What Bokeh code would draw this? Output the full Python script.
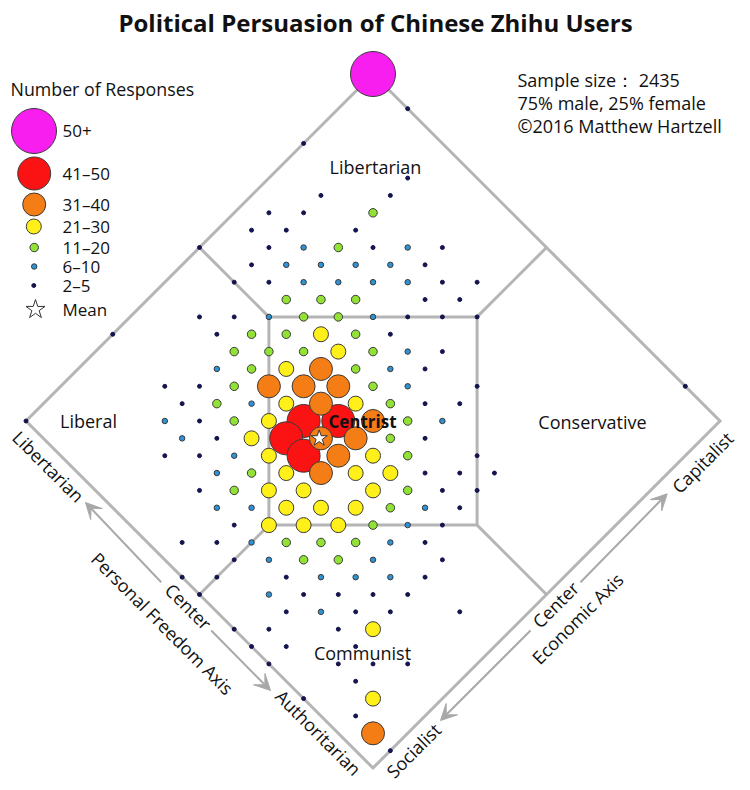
import math
from bokeh.plotting import figure
from bokeh.models import Range1d, Arrow, VeeHead
from bokeh.core.properties import value
from bokeh.embed import file_html
from bokeh.resources import INLINE

FONT = "Open Sans"

# ---------------- data: (economic score, personal-freedom score), 0..20 ----------------
resp_50_plus = [(20, 20)]
resp_41_50 = [(8, 12), (9, 11), (7, 12), (7, 11)]
resp_31_40 = [(10, 13), (8, 14), (9, 13), (10, 12), (9, 12), (10, 10), (8, 11),
              (9, 10), (8, 10), (7, 10), (1, 1)]
resp_21_30 = [(11, 14), (11, 13), (9, 14), (8, 13), (10, 11), (7, 13), (6, 13), (6, 12),
              (9, 9), (6, 11), (8, 9), (9, 8), (5, 11), (6, 10), (8, 8), (5, 10), (6, 9),
              (7, 8), (4, 10), (5, 9), (6, 8), (4, 4), (2, 2)]
resp_11_20 = [(16, 16), (14, 16), (11, 16), (12, 15), (13, 14), (11, 15), (12, 14), (9, 16),
              (10, 15), (12, 13), (8, 16), (9, 15), (10, 14), (12, 12), (8, 15), (11, 12),
              (7, 15), (11, 11), (6, 15), (11, 10), (6, 14), (11, 9), (10, 9), (10, 8),
              (5, 12), (4, 12), (9, 7), (8, 7), (7, 7), (4, 9), (5, 8), (6, 7), (4, 8), (5, 7)]
resp_6_10 = [(13, 17), (16, 14), (12, 17), (13, 16), (14, 15), (15, 14), (12, 16), (13, 15),
             (14, 14), (15, 13), (10, 16), (13, 13), (13, 11), (7, 16), (12, 11), (12, 10),
             (7, 14), (4, 16), (12, 8), (4, 15), (5, 13), (4, 13), (3, 12), (4, 11), (9, 6),
             (8, 6), (3, 10), (7, 6), (3, 9), (6, 6), (4, 7), (5, 6), (6, 5), (2, 8), (3, 6)]
resp_2_5 = [(20, 18), (16, 20), (18, 16), (15, 18), (17, 16), (13, 19), (14, 18), (12, 19),
            (13, 18), (15, 16), (10, 20), (12, 18), (15, 15), (17, 13), (11, 18), (16, 13),
            (10, 18), (11, 17), (16, 12), (17, 11), (15, 12), (16, 11), (8, 18), (9, 17),
            (14, 12), (15, 11), (16, 10), (5, 20), (8, 17), (13, 12), (14, 10), (13, 10),
            (5, 17), (6, 16), (14, 8), (5, 16), (12, 9), (13, 8), (0, 20), (5, 15), (5, 14),
            (11, 8), (3, 15), (4, 14), (12, 6), (10, 7), (11, 6), (12, 5), (3, 13), (10, 6),
            (11, 5), (10, 5), (3, 11), (9, 5), (1, 12), (2, 11), (8, 5), (2, 10), (8, 4),
            (0, 11), (1, 10), (3, 8), (7, 4), (0, 10), (3, 7), (4, 6), (5, 5), (6, 4), (2, 7),
            (4, 5), (5, 4), (7, 2), (0, 8), (1, 7), (3, 5), (0, 7), (1, 6), (3, 4), (0, 6),
            (2, 4), (3, 3), (4, 2), (2, 3), (0, 4), (1, 2), (1, 0), (20, 2)]
mean_econ, mean_freedom = 7.95, 11.05

legend_labels = ["50+", "41\u201350", "31\u201340", "21\u201330", "11\u201320", "6\u201310", "2\u20135"]

# region boundaries (economic, freedom)
outer_e, outer_f = [20, 20, 0, 0, 20], [20, 0, 0, 20, 20]
centrist_e, centrist_f = [10, 16, 10, 4, 10], [16, 10, 4, 10, 16]
spokes = [((10, 16), (10, 20)), ((16, 10), (20, 10)), ((10, 4), (10, 0)), ((4, 10), (0, 10))]

# ---------------- styling ----------------
fills = ["#f81ef0", "#fb1212", "#f57d15", "#fff01a", "#92e236", "#2e93d6", "#14144e"]
diam = [45, 33, 23, 15, 8.5, 5.5, 4]
groups = [resp_50_plus, resp_41_50, resp_31_40, resp_21_30, resp_11_20, resp_6_10, resp_2_5]

W, H = 748, 788
OFF = 0
CX, CY, A = 372.5, 420.5, 17.35  # pixel position of the centre, pixels per step


def X(e, f):
    return e - f


def Y(e, f):
    return e + f - 20


def sx(px):
    return (px - CX) / A


def sy(py):
    return (CY - py) / A


p = figure(width=W, height=H, output_backend="svg", toolbar_location=None,
           x_range=Range1d(sx(OFF), sx(OFF + W)), y_range=Range1d(sy(OFF + H), sy(OFF)),
           x_axis_location=None, y_axis_location=None, min_border=0)
p.grid.visible = False
p.outline_line_color = None
p.background_fill_color = "white"

GRAY = "#b5b5b5"
p.line([X(e, f) for e, f in zip(outer_e, outer_f)], [Y(e, f) for e, f in zip(outer_e, outer_f)],
       line_color=GRAY, line_width=3, line_join="miter")
p.line([X(e, f) for e, f in zip(centrist_e, centrist_f)],
       [Y(e, f) for e, f in zip(centrist_e, centrist_f)],
       line_color=GRAY, line_width=3, line_join="miter")
for (a, b) in spokes:
    p.line([X(*a), X(*b)], [Y(*a), Y(*b)], line_color=GRAY, line_width=3)

# points, small first
order = [6, 5, 4, 3, 1, 2, 0]
for k in order:
    pts = groups[k]
    xs = [X(e, f) for e, f in pts]
    ys = [Y(e, f) for e, f in pts]
    lc = "#14144e" if k == 6 else "#3a3a3a"
    p.scatter(xs, ys, size=diam[k], fill_color=fills[k], line_color=lc, line_width=1)

# mean star
p.scatter([X(mean_econ, mean_freedom)], [Y(mean_econ, mean_freedom)], marker="star",
          size=17, fill_color="white", line_color="#333333", line_width=1)


def txt(px, py, s, size="18px", angle=0, align="center", bold=False, color="#111111"):
    p.text([sx(px)], [sy(py)], text=[s], angle=angle, text_align=align, text_baseline="middle",
           text_font=value(FONT), text_font_size=size, text_color=color,
           text_font_style="bold" if bold else "normal")


# title and notes
txt(375, 22, "Political Persuasion of Chinese Zhihu Users", size="24px", bold=True)
txt(517, 79, "Sample size\uff1a 2435", align="left")
txt(517, 102, "75% male, 25% female", align="left")
txt(517, 125, "\u00a92016 Matthew Hartzell", align="left")

# region labels
txt(375, 166, "Libertarian")
txt(88, 420, "Liberal")
txt(592, 421, "Conservative")
txt(362, 652, "Communist")
txt(362, 421, "Centrist", bold=True, size="17px")

# legend
txt(10, 88, "Number of Responses", align="left", size="17.8px")
leg_y = [130.5, 173, 204, 226, 247, 266, 285]
leg_x = [33.5, 33.7, 33.7, 33.3, 33.7, 33.7, 33.3]
for k in range(7):
    p.scatter([sx(leg_x[k])], [sy(leg_y[k])], size=diam[k], fill_color=fills[k],
              line_color="#14144e" if k == 6 else "#3a3a3a", line_width=1)
    txt(62, leg_y[k], legend_labels[k], align="left", size="17px")
p.scatter([sx(35)], [sy(309)], marker="star", size=20, fill_color="white",
          line_color="#333333", line_width=1)
txt(62, 309, "Mean", align="left", size="17px")

# axes labels outside the diamond
DOWN = -math.pi / 4
UP = math.pi / 4
txt(48, 466, "Libertarian", angle=DOWN)
txt(188, 606, "Center", angle=DOWN)
txt(162, 623, "Personal Freedom Axis", angle=DOWN)
txt(318, 732, "Authoritarian", angle=DOWN)
txt(702, 462, "Capitalist", angle=UP)
txt(555, 604, "Center", angle=UP)
txt(577, 618, "Economic Axis", angle=UP)
txt(413, 750, "Socialist", angle=UP)

AG = "#a8a8a8"
for (x0, y0, x1, y1) in [(160.7, 581.7, 85, 502), (210.7, 630, 270, 690),
                         (580, 581.7, 666.7, 493.3), (530, 630, 440, 720)]:
    p.add_layout(Arrow(end=VeeHead(size=16, fill_color=AG, line_color=AG),
                       x_start=sx(x0), y_start=sy(y0), x_end=sx(x1), y_end=sy(y1),
                       line_color=AG, line_width=2))

open("out.html", "w").write(file_html(p, INLINE))
